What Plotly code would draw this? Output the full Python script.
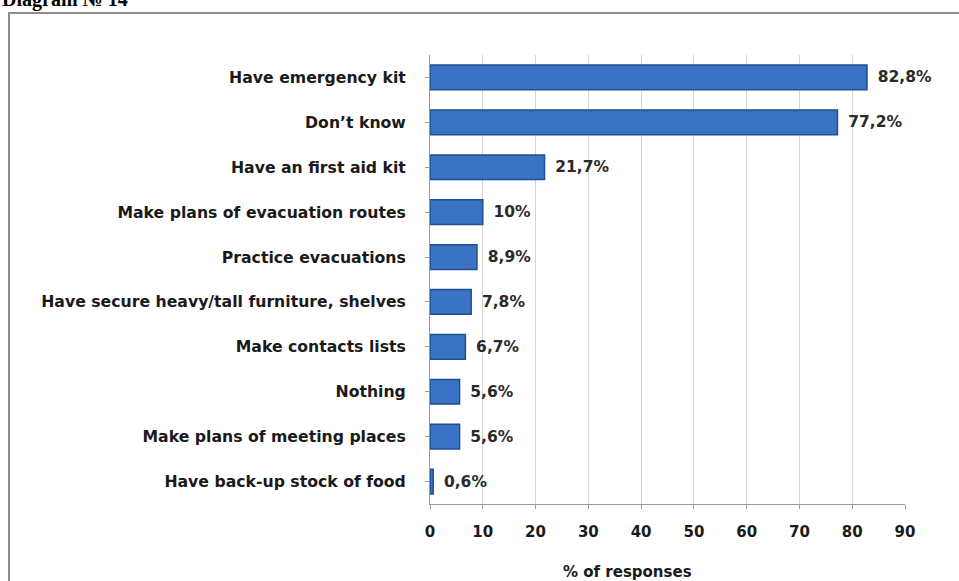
import plotly.graph_objects as go

categories = [
    "Have emergency kit",
    "Don’t know",
    "Have an first aid kit",
    "Make plans of evacuation routes",
    "Practice evacuations",
    "Have secure heavy/tall furniture, shelves",
    "Make contacts lists",
    "Nothing",
    "Make plans of meeting places",
    "Have back-up stock of food",
]
values = [82.8, 77.2, 21.7, 10, 8.9, 7.8, 6.7, 5.6, 5.6, 0.6]
tick_vals = [0, 10, 20, 30, 40, 50, 60, 70, 80, 90]

labels = [(f"{v:g}".replace(".", ",")) + "%" for v in values]

W, H = 959, 581
L, R, T, B = 430, 54, 55, 77
pw, ph = W - L - R, H - T - B
FONT = "DejaVu Sans"


def px_x(x):
    return (x - L) / pw


def px_y(y):
    return 1 - (y - T) / ph


fig = go.Figure(go.Bar(
    x=values, y=categories, orientation="h",
    marker=dict(color="#3b73c4", line=dict(color="#1f4f93", width=1.5)),
    text=labels, textposition="outside",
    texttemplate="\u2002%{text}",
    textfont=dict(family=FONT, size=15.5, color="#2a2a2a", weight="bold"),
    cliponaxis=False,
))

fig.update_layout(
    width=W, height=H,
    margin=dict(l=L, r=R, t=T, b=B),
    paper_bgcolor="white", plot_bgcolor="white",
    bargap=0.45,
    showlegend=False,
    font=dict(family=FONT, size=14, color="#1a1a1a"),
    xaxis=dict(
        range=[0, 90], tickvals=tick_vals, showgrid=True, gridcolor="#d4d4d4",
        zeroline=False, showline=True, linecolor="#9a9a9a", automargin=False,
        ticks="outside", ticklen=4, tickcolor="#9a9a9a",
        tickfont=dict(family=FONT, size=15, color="#1a1a1a", weight="bold"),
        ticklabelstandoff=10,
    ),
    yaxis=dict(
        autorange="reversed", showline=True, linecolor="#9a9a9a", automargin=False,
        ticks="outside", ticklen=4, tickcolor="#9a9a9a",
        tickfont=dict(family=FONT, size=15.7, color="#1a1a1a", weight="bold"),
        ticklabelstandoff=16,
    ),
    shapes=[dict(
        type="rect", xref="paper", yref="paper",
        x0=px_x(9), x1=px_x(964), y0=px_y(586), y1=px_y(13),
        line=dict(color="#8c8c8c", width=2), fillcolor="rgba(0,0,0,0)", layer="below",
    )],
    annotations=[
        dict(
            text="<b>Diagram № 14</b>", xref="paper", yref="paper",
            x=px_x(0), y=px_y(13), xanchor="left", yanchor="bottom", showarrow=False,
            font=dict(family="Liberation Serif", size=20, color="black"),
        ),
        dict(
            text="<b>% of responses</b>", xref="paper", yref="paper",
            x=px_x(627), y=px_y(572), xanchor="center", yanchor="middle", showarrow=False,
            font=dict(family=FONT, size=15, color="#1a1a1a"),
        ),
    ],
)

fig.write_html("out.html", config={"displayModeBar": False},
               post_script="document.body.style.margin='0';")
